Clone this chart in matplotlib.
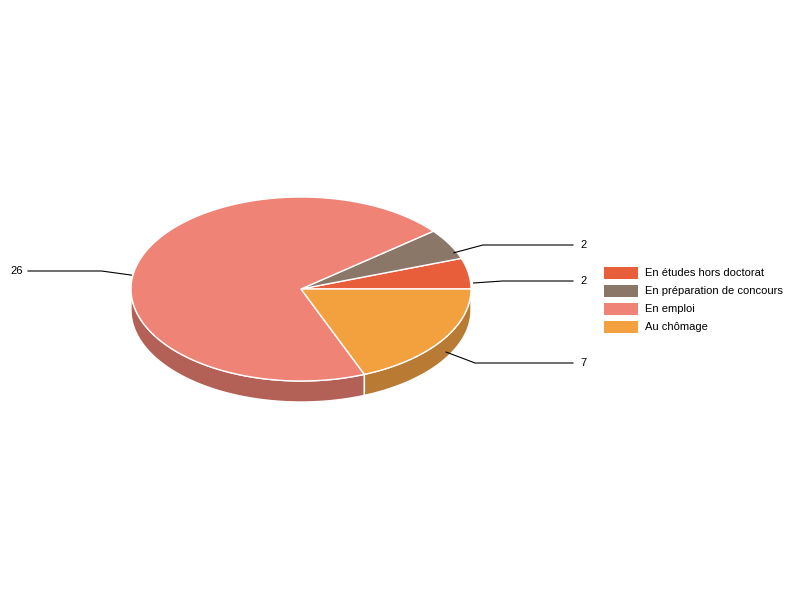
import numpy as np
import matplotlib.pyplot as plt
from matplotlib.patches import Polygon, Rectangle

plt.rcParams['font.family'] = ['Liberation Sans', 'DejaVu Sans']

labels = ['En études hors doctorat', 'En préparation de concours', 'En emploi', 'Au chômage']
values = [2, 2, 26, 7]
colors = ['#E85E3B', '#8A7768', '#EE8376', '#F3A03F']
side_colors = ['#B04A2E', '#6A5B50', '#B36157', '#B97A33']

cx, cy, rx, ry, depth = 301, 289, 170, 92, 21

fig = plt.figure(figsize=(8, 6), dpi=100)
ax = fig.add_axes([0, 0, 1, 1])
ax.set_xlim(0, 800)
ax.set_ylim(600, 0)
ax.axis('off')


def pt(t, scale=1.0, dy=0):
    return cx + rx * scale * np.cos(t), cy - ry * scale * np.sin(t) + dy


total = sum(values)
bounds = np.concatenate([[0], np.cumsum(values)]) / total * 2 * np.pi

# side walls (front half only)
for i in range(len(values)):
    lo, hi = max(bounds[i], np.pi), min(bounds[i + 1], 2 * np.pi)
    if hi <= lo:
        continue
    t = np.linspace(lo, hi, 80)
    x, y = pt(t)
    xs = np.concatenate([x, x[::-1]])
    ys = np.concatenate([y, (y + depth)[::-1]])
    ax.add_patch(Polygon(np.column_stack([xs, ys]), closed=True, fc=side_colors[i],
                         ec='white', lw=1, zorder=1))

# top faces
for i in range(len(values)):
    t = np.linspace(bounds[i], bounds[i + 1], 120)
    x, y = pt(t)
    xs = np.concatenate([[cx], x])
    ys = np.concatenate([[cy], y])
    ax.add_patch(Polygon(np.column_stack([xs, ys]), closed=True, fc=colors[i],
                         ec='white', lw=1, zorder=2))

# data labels with connectors
label_y = [281, 245, 271, 363]
for i in range(len(values)):
    mid = (bounds[i] + bounds[i + 1]) / 2
    x0, y0 = pt(mid, 1.03, 10)
    ly = label_y[i]
    if x0 > cx:
        xs = [x0, x0 + 29, 573]
        lx = 580
    else:
        xs = [x0, x0 - 30, 28]
        lx = 10
    ax.plot(xs, [y0, ly, ly], color='black', lw=0.8, zorder=3)
    ax.text(lx, ly, str(values[i]), fontsize=8, ha='left', va='center', color='black')

# legend
for i, lab in enumerate(labels):
    y = 273 + 18 * i
    ax.add_patch(Rectangle((604, y - 6), 34, 12, fc=colors[i], ec='none'))
    ax.text(645, y, lab, fontsize=8, va='center', ha='left', color='black')

fig.savefig('out.png', dpi=100)
